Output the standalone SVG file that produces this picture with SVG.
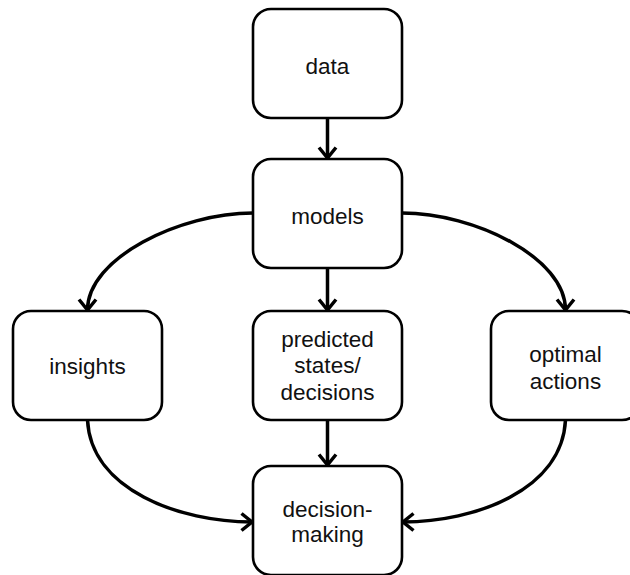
<svg xmlns="http://www.w3.org/2000/svg" width="630" height="575" viewBox="0 0 630 575">
<style>
.box{fill:#fff;stroke:#000;stroke-width:2.6}
.lbl{font-family:"Liberation Sans",Arial,Helvetica,sans-serif;font-size:22.5px;fill:#111;text-anchor:middle}
.con{fill:none;stroke:#000;stroke-width:3.5;marker-end:url(#arr)}
</style>
<defs>
<marker id="arr" markerUnits="userSpaceOnUse" viewBox="0 0 14 20" refX="12" refY="10" markerWidth="14" markerHeight="20" orient="auto" overflow="visible">
<path d="M1.5,1.5 L12,10 L1.5,18.5" fill="none" stroke="#000" stroke-width="3.5" stroke-linejoin="miter"/>
</marker>
</defs>
<rect width="630" height="575" fill="#fff"/>
<g id="connectors">
<path class="con" d="M327.5,118 L327.5,158"/>
<path class="con" d="M327.5,268 L327.5,310"/>
<path class="con" d="M327.5,420 L327.5,465"/>
<path class="con" d="M253,213 C180,213 87.5,258 87.5,310"/>
<path class="con" d="M402,213 C475,213 565.5,258 565.5,310"/>
<path class="con" d="M87.5,420 C91,490 180,522 252,522"/>
<path class="con" d="M565.5,420 C562,490 475,522 403,522"/>
</g>
<g id="data">
<rect class="box" x="253" y="9" width="149" height="109" rx="18"/>
<text class="lbl" x="327.5" y="74">data</text>
</g>
<g id="models">
<rect class="box" x="253" y="159" width="149" height="109" rx="18"/>
<text class="lbl" x="327.5" y="224">models</text>
</g>
<g id="insights">
<rect class="box" x="13" y="311" width="149" height="109" rx="18"/>
<text class="lbl" x="87.5" y="374">insights</text>
</g>
<g id="predicted">
<rect class="box" x="253" y="311" width="149" height="109" rx="18"/>
<text class="lbl" x="327.5" y="347">predicted</text>
<text class="lbl" x="327.5" y="373">states/</text>
<text class="lbl" x="327.5" y="400">decisions</text>
</g>
<g id="optimal">
<rect class="box" x="491" y="311" width="149" height="109" rx="18"/>
<text class="lbl" x="565.5" y="362">optimal</text>
<text class="lbl" x="565.5" y="389">actions</text>
</g>
<g id="decision-making">
<rect class="box" x="253" y="466" width="149" height="109" rx="18"/>
<text class="lbl" x="327.5" y="517">decision-</text>
<text class="lbl" x="327.5" y="542">making</text>
</g>
</svg>
